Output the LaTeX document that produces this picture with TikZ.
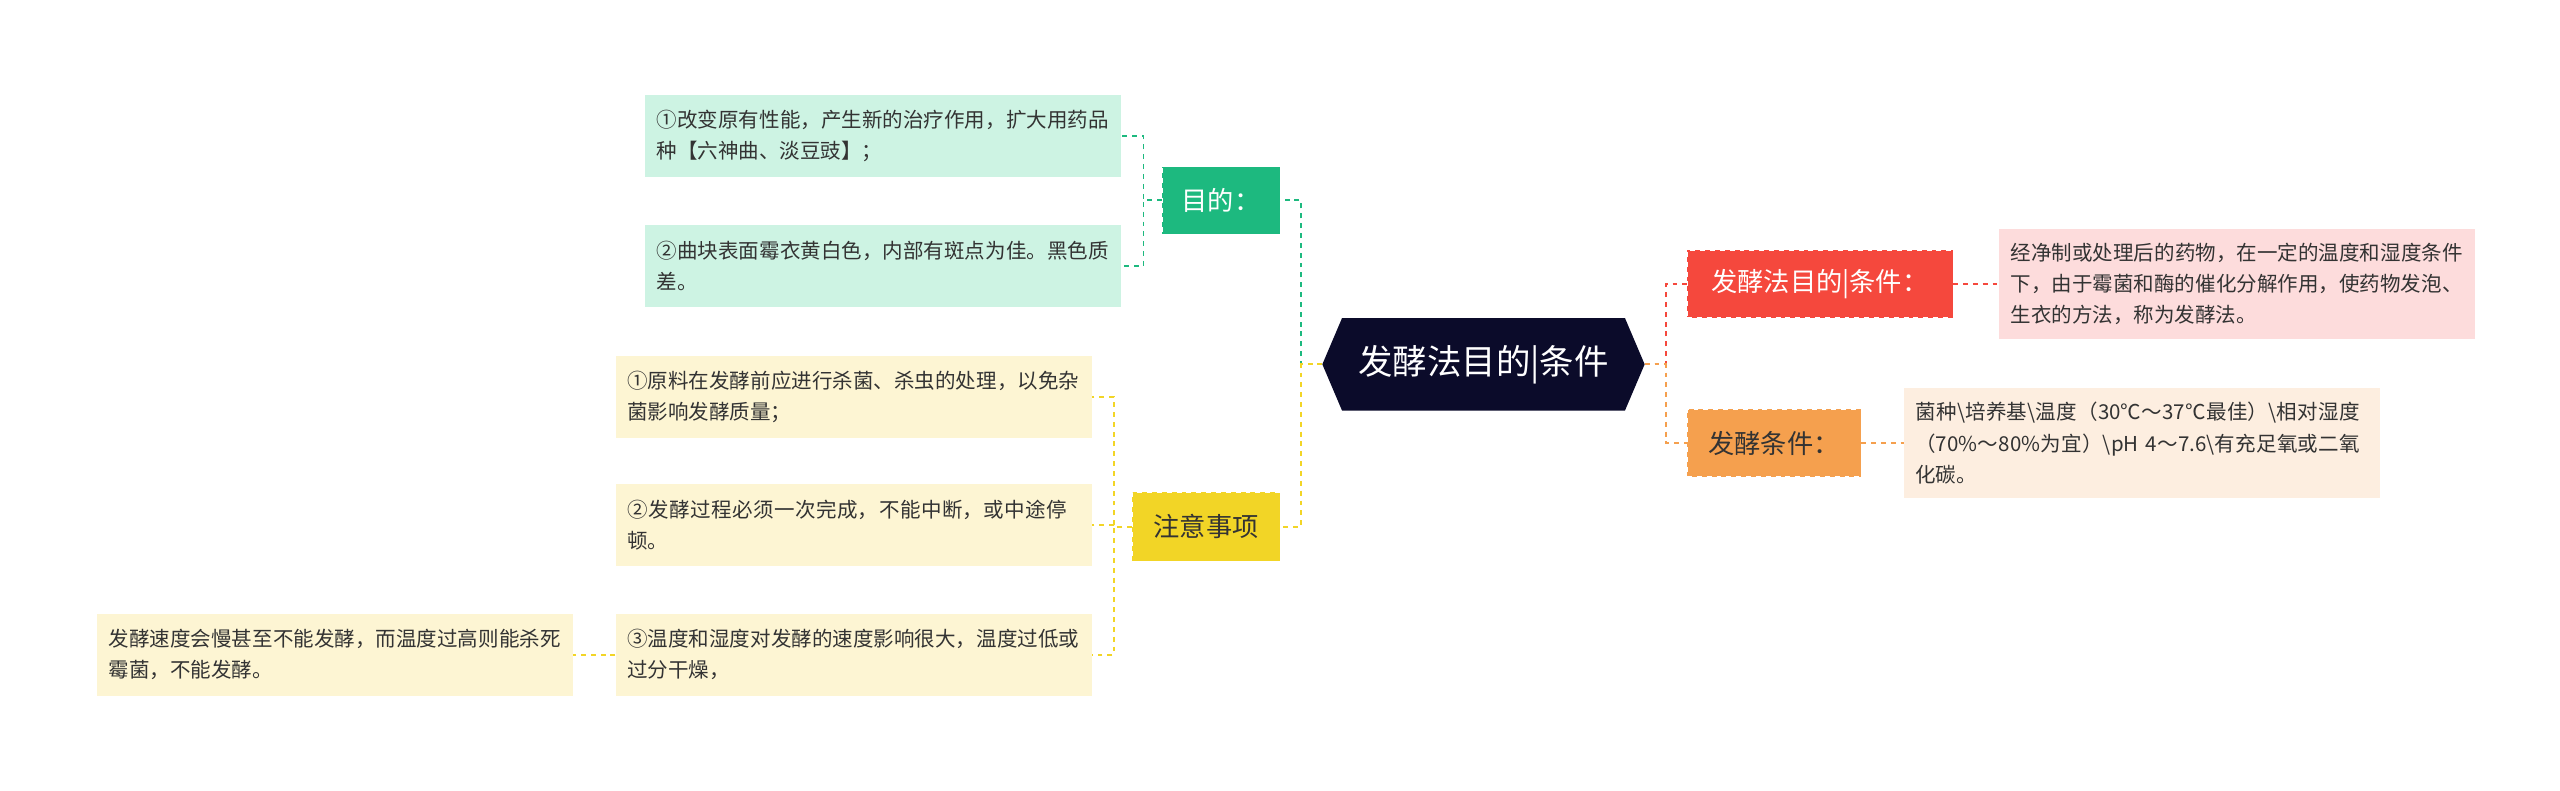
\documentclass[tikz,border=0pt]{standalone}
\usepackage{fontspec}
\setmainfont{Noto Sans CJK SC}
\XeTeXlinebreaklocale "zh"
\XeTeXlinebreakskip=0pt plus 1pt
\definecolor{dk}{HTML}{0B0B2A}
\definecolor{gr}{HTML}{1DB97F}
\definecolor{grl}{HTML}{CDF3E3}
\definecolor{ye}{HTML}{F2D526}
\definecolor{yel}{HTML}{FDF5D3}
\definecolor{rd}{HTML}{F5483D}
\definecolor{rdl}{HTML}{FDDCDC}
\definecolor{or}{HTML}{F5A04E}
\definecolor{orl}{HTML}{FDEEE0}
\definecolor{tx}{HTML}{333333}
\begin{document}
\begin{tikzpicture}[x=1pt,y=-1pt,
 leaf/.style={fill=#1,text=tx,align=left,text width=276pt,inner sep=7pt,font=\fontsize{12.5}{19}\selectfont,anchor=west},
 br/.style={fill=#1,draw=white,dashed,inner sep=7pt,font=\fontsize{16}{20}\selectfont},
 cn/.style={draw=#1,dashed,line width=1pt}]
\useasboundingbox (0,0) rectangle (1560,482);
\node[minimum height=56pt,minimum width=196pt,inner sep=0pt] (c) at (904,222) {};
\fill[dk] (c.west) -- ([xshift=12pt]c.north west) -- ([xshift=-12pt]c.north east) -- (c.east) -- ([xshift=-12pt]c.south east) -- ([xshift=12pt]c.south west) -- cycle;
\node[text=white,font=\fontsize{21}{26}\selectfont] (ct) at (c.center) {发酵法目的|条件};
\node[br=gr,text=white,minimum width=72pt,minimum height=41pt] (g) at (744,122) {目的：};
\node[br=ye,text=tx,minimum width=90pt,minimum height=42pt] (y) at (735,321) {注意事项};
\node[br=rd,text=white,minimum width=162pt,minimum height=41pt] (r) at (1109,173) {发酵法目的|条件：};
\node[br=or,text=tx,minimum width=106pt,minimum height=41pt] (o) at (1081,270) {发酵条件：};
\node[leaf=grl,minimum height=50pt] (g1) at (393,83) {①改变原有性能，产生新的治疗作用，扩大用药品种【六神曲、淡豆豉】；};
\node[leaf=grl,minimum height=50pt] (g2) at (393,162) {②曲块表面霉衣黄白色，内部有斑点为佳。黑色质差。};
\node[leaf=yel,minimum height=50pt] (y1) at (375,242) {①原料在发酵前应进行杀菌、杀虫的处理，以免杂菌影响发酵质量；};
\node[leaf=yel,minimum height=50pt] (y2) at (375,320) {②发酵过程必须一次完成，不能中断，或中途停顿。};
\node[leaf=yel,minimum height=50pt] (y3) at (375,399) {③温度和湿度对发酵的速度影响很大，温度过低或过分干燥，};
\node[leaf=yel,minimum height=50pt] (y4) at (59,399) {发酵速度会慢甚至不能发酵，而温度过高则能杀死霉菌，不能发酵。};
\node[leaf=rdl,minimum height=67pt] (r1) at (1218,173) {经净制或处理后的药物，在一定的温度和湿度条件下，由于霉菌和酶的催化分解作用，使药物发泡、生衣的方法，称为发酵法。};
\node[leaf=orl,minimum height=67pt] (o1) at (1160,270) {菌种\textbackslash 培养基\textbackslash 温度（30℃～37℃最佳）\textbackslash 相对湿度（70\%～80\%为宜）\textbackslash pH 4～7.6\textbackslash 有充足氧或二氧化碳。};
\draw[cn=gr] (c.west) -- ++(-13,0) |- (g.east);
\draw[cn=ye] (c.west) -- ++(-13,0) |- (y.east);
\draw[cn=gr] (g.west) -- ++(-11,0) |- (g1.east);
\draw[cn=gr] (g.west) -- ++(-11,0) |- (g2.east);
\draw[cn=ye] (y.west) -- ++(-11,0) |- (y1.east);
\draw[cn=ye] (y.west) -- ++(-11,0) |- (y2.east);
\draw[cn=ye] (y.west) -- ++(-11,0) |- (y3.east);
\draw[cn=ye] (y3.west) -- (y4.east);
\draw[cn=rd] (c.east) -- ++(13,0) |- (r.west);
\draw[cn=or] (c.east) -- ++(13,0) |- (o.west);
\draw[cn=rd] (r.east) -- (r1.west);
\draw[cn=or] (o.east) -- (o1.west);
\end{tikzpicture}
\end{document}
